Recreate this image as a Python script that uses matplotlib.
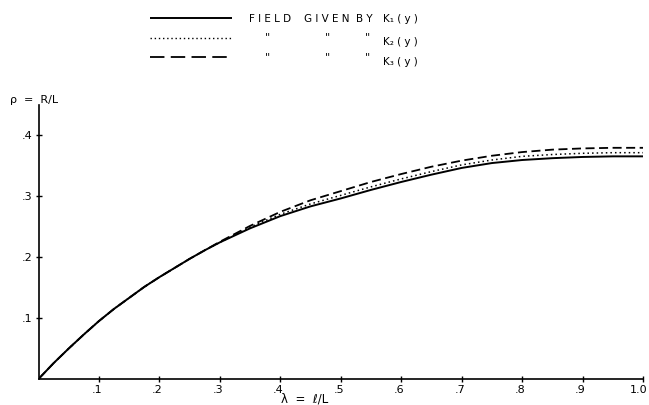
import matplotlib
matplotlib.use("Agg")
import matplotlib.pyplot as plt
from matplotlib.lines import Line2D
import matplotlib.transforms as mtrans

# lambda = l/L
lam = [0.0, 0.025, 0.05, 0.075, 0.1, 0.125, 0.15, 0.175, 0.2, 0.225, 0.25, 0.275,
       0.3, 0.35, 0.4, 0.45, 0.5, 0.55, 0.6, 0.65, 0.7, 0.75, 0.8, 0.85, 0.9, 0.95, 1.0]
# rho = R/L for the three field functions
rho_k1 = [0.0, 0.026, 0.050, 0.073, 0.095, 0.115, 0.133, 0.151, 0.167, 0.182, 0.197, 0.211,
          0.224, 0.247, 0.267, 0.283, 0.296, 0.310, 0.323, 0.335, 0.346, 0.354, 0.359,
          0.362, 0.364, 0.365, 0.365]
rho_k2 = [0.0, 0.026, 0.050, 0.073, 0.095, 0.115, 0.133, 0.151, 0.167, 0.182, 0.197, 0.211,
          0.224, 0.249, 0.270, 0.287, 0.301, 0.315, 0.328, 0.340, 0.351, 0.359, 0.365,
          0.368, 0.370, 0.371, 0.371]
rho_k3 = [0.0, 0.026, 0.050, 0.073, 0.095, 0.115, 0.133, 0.151, 0.167, 0.182, 0.197, 0.211,
          0.225, 0.251, 0.274, 0.293, 0.308, 0.323, 0.336, 0.348, 0.358, 0.366, 0.372,
          0.376, 0.378, 0.379, 0.379]

xticks = [0.1, 0.2, 0.3, 0.4, 0.5, 0.6, 0.7, 0.8, 0.9, 1.0]
xticklabels = [".1", ".2", ".3", ".4", ".5", ".6", ".7", ".8", ".9", "1.0"]
yticks = [0.1, 0.2, 0.3, 0.4]
yticklabels = [".1", ".2", ".3", ".4"]

plt.rcParams['font.family'] = ['DejaVu Sans']

fig = plt.figure(figsize=(6.49, 4.05), dpi=100)
W, H = 649.0, 405.0
ax = fig.add_axes([38.5 / W, 1 - 379 / H, (643 - 38.5) / W, (379 - 104.5) / H])

ax.plot(lam, rho_k1, color='black', lw=1.4, ls='-', solid_joinstyle='round')
ax.plot(lam, rho_k2, color='black', lw=1.1, ls=(0, (1, 2)))
ax.plot(lam, rho_k3, color='black', lw=1.3, ls=(0, (5, 2.5)))

ax.set_xlim(0, 1.0)
ax.set_ylim(0, 0.45)
ax.spines['top'].set_visible(False)
ax.spines['right'].set_visible(False)
ax.spines['left'].set_linewidth(1.2)
ax.spines['bottom'].set_linewidth(1.2)
ax.set_xticks(xticks)
ax.set_xticklabels(xticklabels)
ax.set_yticks(yticks)
ax.set_yticklabels(yticklabels)
ax.tick_params(direction='inout', length=5, width=1, labelsize=8, pad=2)
# labels sit a little left of their ticks in the original
shift = mtrans.ScaledTranslation(-2 / 100, 0, fig.dpi_scale_trans)
for lbl in ax.get_xticklabels():
    lbl.set_transform(lbl.get_transform() + shift)
ax.get_xticklabels()[-1].set_transform(ax.get_xticklabels()[-1].get_transform()
                                       + mtrans.ScaledTranslation(-2 / 100, 0, fig.dpi_scale_trans))

# axis titles
fig.text(10 / W, 1 - 100 / H, "ρ  =  R/L", fontsize=8, va='center', ha='left')
fig.text(305 / W, 1 - 392 / H, "λ  =  ℓ/L", fontsize=8.5, va='top', ha='center')

# legend drawn by hand, as in the original figure
rows = [(18, 1.4, (0, (1, 0))), (38, 1.0, (0, (1, 2))), (57, 1.3, (0, (8, 3.5)))]
for y, lw, ls in rows:
    fig.add_artist(Line2D([150 / W, 232 / W], [1 - y / H, 1 - y / H],
                          color='black', lw=lw, ls=ls, transform=fig.transFigure))

words = [("F I E L D", 249), ("G I V E N", 304), ("B Y", 356), ("K₁ ( y )", 383)]
for w, x in words:
    fig.text(x / W, 1 - 19 / H, w, fontsize=7.5, va='center', ha='left')
for y, k in [(37, "K₂ ( y )"), (57, "K₃ ( y )")]:
    for x in [267, 328, 367]:
        fig.text(x / W, 1 - y / H, '"', fontsize=8, va='center', ha='center')
    fig.text(383 / W, 1 - (y + 5) / H, k, fontsize=7.5, va='center', ha='left')

fig.savefig("out.png", dpi=100)
